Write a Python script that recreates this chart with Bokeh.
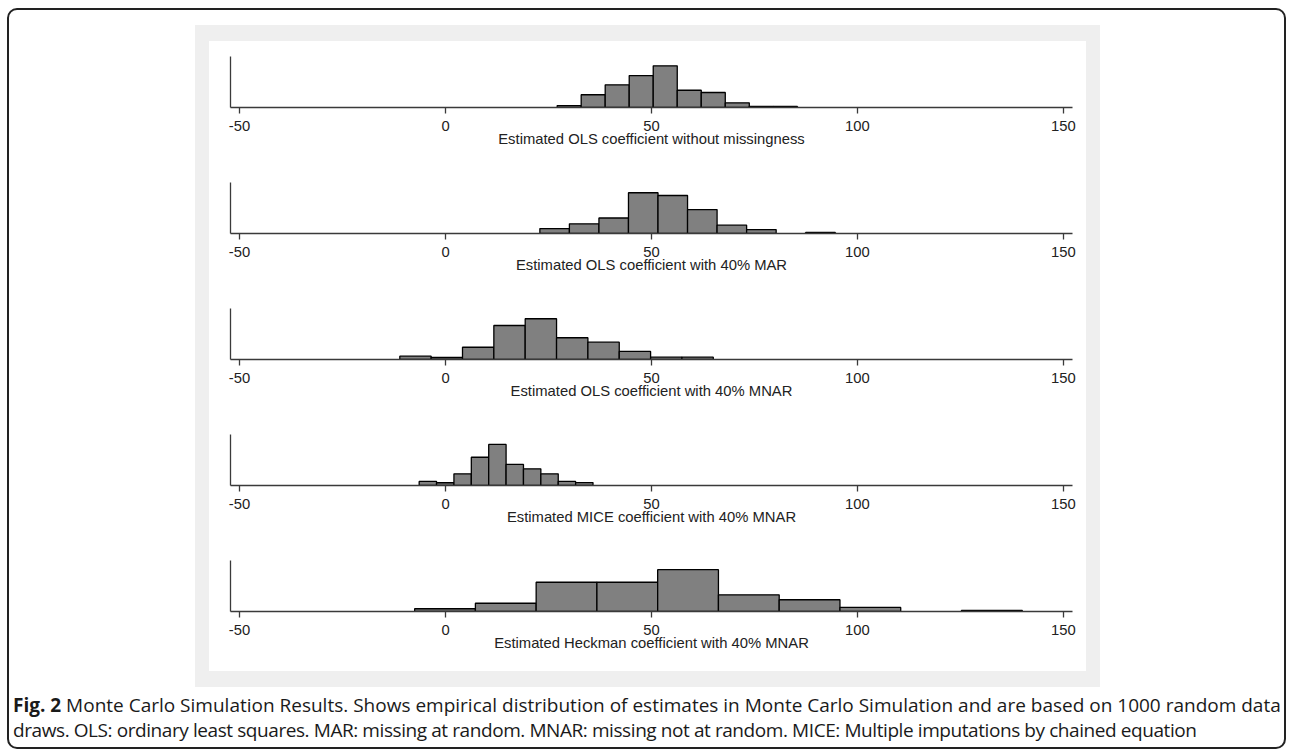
from bokeh.plotting import figure
from bokeh.models import Range1d, FixedTicker, Div, Column
from bokeh.embed import file_html
from bokeh.resources import INLINE

# ---- data ----
titles = [
    "Estimated OLS coefficient without missingness",
    "Estimated OLS coefficient with 40% MAR",
    "Estimated OLS coefficient with 40% MNAR",
    "Estimated MICE coefficient with 40% MNAR",
    "Estimated Heckman coefficient with 40% MNAR",
]
# first bin edge and bin width of each histogram
bin_start = [27.1, 22.9, -11.1, -6.4, -7.5]
bin_width = [5.83, 7.17, 7.61, 4.22, 14.75]
# frequencies (out of 1000 draws)
counts_ols = [13, 85, 151, 213, 278, 115, 100, 31, 7, 7]
counts_mar = [34, 66, 106, 279, 260, 164, 57, 27, 0, 7]
counts_mnar = [23, 14, 85, 236, 283, 151, 120, 56, 16, 16]
counts_mice = [28, 19, 81, 196, 285, 146, 116, 81, 28, 20]
counts_heck = [19, 57, 202, 202, 289, 115, 81, 28, 0, 8]
all_counts = [counts_ols, counts_mar, counts_mnar, counts_mice, counts_heck]
y_top = [340, 349, 354, 354, 352]
x_ticks = [-50, 0, 50, 100, 150]
x_tick_labels = ["-50", "0", "50", "100", "150"]
caption_line1 = ("<b>Fig. 2</b> Monte Carlo Simulation Results. Shows empirical distribution of "
                 "estimates in Monte Carlo Simulation and are based on 1000 random data")
caption_line2 = ("draws. OLS: ordinary least squares. MAR: missing at random. MNAR: missing not "
                 "at random. MICE: Multiple imputations by chained equation")

FONT = "Liberation Sans"
TXT = "#222222"
AX = "#3a3a3a"

figs = []
for i in range(5):
    p = figure(width=877, height=126, x_range=Range1d(-52.2, 152.2),
               y_range=Range1d(0, y_top[i]), output_backend="svg",
               toolbar_location=None, min_border_left=21, min_border_right=14,
               min_border_top=15, min_border_bottom=60)
    p.outline_line_color = None
    p.background_fill_color = "white"
    p.border_fill_color = "white"
    p.xgrid.visible = False
    p.ygrid.visible = False
    c = all_counts[i]
    lefts, rights, tops = [], [], []
    for k, v in enumerate(c):
        if v > 0:
            lefts.append(bin_start[i] + k * bin_width[i])
            rights.append(bin_start[i] + (k + 1) * bin_width[i])
            tops.append(v)
    p.quad(left=lefts, right=rights, bottom=0, top=tops,
           fill_color="#808080", line_color="black", line_width=1.3)

    xa = p.xaxis[0]
    xa.ticker = FixedTicker(ticks=x_ticks)
    xa.major_label_overrides = {t: s for t, s in zip(x_ticks, x_tick_labels)}
    xa.minor_tick_line_color = None
    xa.major_tick_in = 0
    xa.major_tick_out = 6
    xa.major_tick_line_color = AX
    xa.major_tick_line_width = 1.3
    xa.axis_line_color = AX
    xa.axis_line_width = 1.3
    xa.major_label_text_font = FONT
    xa.major_label_text_font_size = "14.8px"
    xa.major_label_text_color = TXT
    xa.major_label_standoff = 7
    xa.axis_label = titles[i]
    xa.axis_label_text_font = FONT
    xa.axis_label_text_font_size = "14.8px"
    xa.axis_label_text_font_style = "normal"
    xa.axis_label_text_color = TXT
    xa.axis_label_standoff = -3

    ya = p.yaxis[0]
    ya.ticker = FixedTicker(ticks=[])
    ya.minor_tick_line_color = None
    ya.major_tick_line_color = None
    ya.major_label_text_font_size = "0px"
    ya.axis_line_color = AX
    ya.axis_line_width = 1.3
    figs.append(p)

inner = Column(children=figs, spacing=0, margin=(16, 14, 16, 14),
               styles={"background-color": "white"})
gray = Column(children=[inner], spacing=0, margin=(15, 0, 0, 186),
              styles={"background-color": "#efefef"})
caption = Div(text=caption_line1 + "<br><span style='letter-spacing:-0.42px'>"
              + caption_line2 + "</span>", width=1270, margin=(6, 0, 0, 4),
              styles={"font-family": "Open Sans", "font-size": "19px",
                      "line-height": "25px", "color": "#1a1a1a",
                      "white-space": "nowrap"})
outer = Column(children=[gray, caption], spacing=0, width=1279, height=741,
               margin=(8, 0, 0, 7),
               styles={"border": "2px solid #222222", "border-radius": "10px",
                       "box-sizing": "border-box", "background-color": "white"})

open("out.html", "w").write(file_html(outer, INLINE))
